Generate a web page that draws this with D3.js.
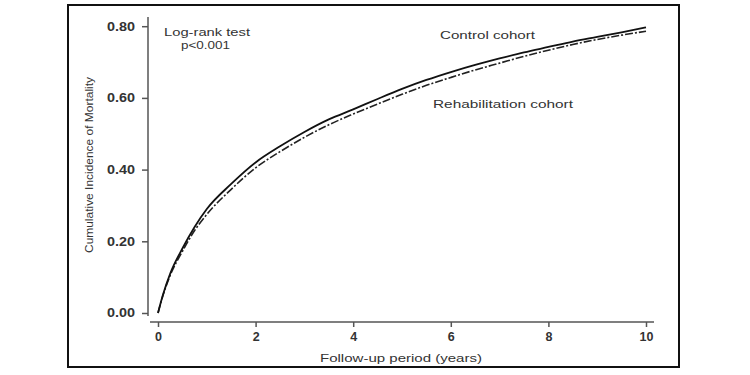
<!DOCTYPE html>
<html><head><meta charset="utf-8">
<script src="https://cdn.jsdelivr.net/npm/d3@7"></script>
<style>body{margin:0;background:#fff;}svg{display:block;}</style>
</head><body>
<svg id="c" width="750" height="375"></svg>
<script>
const years = [0, 0.1, 0.25, 0.5, 0.75, 1, 1.5, 2, 2.5, 3, 3.5, 4, 4.5, 5, 5.5, 6, 6.5, 7, 7.5, 8, 8.5, 9, 9.5, 10];
const controlCohort = [0, 0.05, 0.11, 0.18, 0.24, 0.29, 0.36, 0.42, 0.465, 0.505, 0.54, 0.568, 0.597, 0.625, 0.65, 0.672, 0.692, 0.71, 0.727, 0.742, 0.757, 0.77, 0.783, 0.797];
const rehabCohort = [0, 0.048, 0.105, 0.172, 0.23, 0.275, 0.345, 0.405, 0.45, 0.49, 0.525, 0.555, 0.583, 0.61, 0.635, 0.657, 0.678, 0.697, 0.716, 0.733, 0.749, 0.763, 0.775, 0.786];
const xTicks = [0, 2, 4, 6, 8, 10];
const yTicks = [0, 0.2, 0.4, 0.6, 0.8];

const svg = d3.select("#c");
const font = "'Liberation Sans', Arial, sans-serif";
const axisCol = "#555", textCol = "#333";

// outer frame
svg.append("rect").attr("x", 68).attr("y", 5).attr("width", 611).attr("height", 362)
  .attr("fill", "none").attr("stroke", "#111").attr("stroke-width", 2);

const x = d3.scaleLinear().domain([0, 10]).range([158, 646]);
const y = d3.scaleLinear().domain([0, 0.8]).range([313, 26.2]);

// y axis (offset left)
const yAxis = d3.axisLeft(y).tickValues(yTicks).tickFormat(d3.format(".2f")).tickSize(6).tickSizeOuter(0).tickPadding(7);
const gy = svg.append("g").attr("transform", "translate(148,0)").call(yAxis);
gy.select(".domain").remove();
gy.append("line").attr("x1", 0).attr("x2", 0).attr("y1", 17).attr("y2", 316).attr("stroke", axisCol).attr("stroke-width", 1.5);
gy.selectAll(".tick line").attr("stroke", axisCol).attr("stroke-width", 1.5);
gy.selectAll(".tick text").attr("fill", textCol).style("font", "bold 12px " + font)
  .attr("textLength", 28).attr("lengthAdjust", "spacingAndGlyphs");

// x axis (offset down)
const xAxis = d3.axisBottom(x).tickValues(xTicks).tickFormat(d3.format("d")).tickSize(5).tickSizeOuter(0).tickPadding(5);
const gx = svg.append("g").attr("transform", "translate(0,322)").call(xAxis);
gx.select(".domain").remove();
gx.append("line").attr("x1", 150).attr("x2", 654).attr("y1", 0).attr("y2", 0).attr("stroke", axisCol).attr("stroke-width", 1.5);
gx.selectAll(".tick line").attr("stroke", axisCol).attr("stroke-width", 1.5);
gx.selectAll(".tick text").attr("fill", textCol).style("font", "bold 12.5px " + font);

// axis titles
svg.append("text").attr("x", 401).attr("y", 362).attr("text-anchor", "middle")
  .attr("fill", textCol).style("font", "11px " + font)
  .attr("textLength", 162).attr("lengthAdjust", "spacingAndGlyphs").text("Follow-up period (years)");
svg.append("text").attr("transform", "translate(93,165) rotate(-90)").attr("text-anchor", "middle")
  .attr("fill", textCol).style("font", "11px " + font)
  .attr("textLength", 176).attr("lengthAdjust", "spacingAndGlyphs").text("Cumulative Incidence of Mortality");

// curves
const line = d3.line().x(d => x(d[0])).y(d => y(d[1])).curve(d3.curveMonotoneX);
svg.append("path").datum(years.map((t, i) => [t, rehabCohort[i]]))
  .attr("d", line).attr("fill", "none").attr("stroke", "#222").attr("stroke-width", 1.6)
  .attr("stroke-dasharray", "8,2,2,2");
svg.append("path").datum(years.map((t, i) => [t, controlCohort[i]]))
  .attr("d", line).attr("fill", "none").attr("stroke", "#111").attr("stroke-width", 1.8);

// annotations
const ann = (tx, ax, ay, len) => svg.append("text").attr("x", ax).attr("y", ay)
  .attr("fill", textCol).style("font", "11.5px " + font)
  .attr("textLength", len).attr("lengthAdjust", "spacingAndGlyphs").text(tx);
ann("Log-rank test", 164, 36, 86);
ann("p<0.001", 181, 49, 49);
ann("Control cohort", 440, 39, 95);
ann("Rehabilitation cohort", 433, 108, 140);
</script>
</body></html>
